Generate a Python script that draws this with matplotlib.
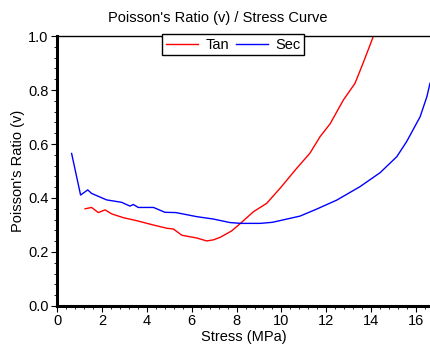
import matplotlib.pyplot as plt
from matplotlib.ticker import MultipleLocator

plt.rcParams['font.family'] = ['Liberation Sans', 'DejaVu Sans']

# Tangent Poisson's ratio
tan_stress = [1.25, 1.54, 1.84, 2.14, 2.44, 2.96, 3.55, 4.29, 4.89, 5.19, 5.56, 6.22,
              6.67, 6.97, 7.26, 7.78, 8.16, 8.75, 9.34, 9.94, 10.68, 11.27, 11.72, 12.17,
              12.76, 13.28, 13.65, 13.95, 14.1]
tan_ratio = [0.360, 0.365, 0.346, 0.356, 0.341, 0.327, 0.316, 0.300, 0.288, 0.285, 0.262, 0.252,
             0.241, 0.245, 0.254, 0.278, 0.305, 0.349, 0.380, 0.436, 0.510, 0.566, 0.627, 0.675,
             0.763, 0.825, 0.902, 0.967, 1.0]

# Secant Poisson's ratio
sec_stress = [0.65, 1.05, 1.37, 1.54, 2.21, 2.88, 3.25, 3.40, 3.62, 4.30, 4.81, 5.30,
              6.22, 6.97, 7.71, 8.2, 9.05, 9.6, 10.83, 11.6, 12.46, 13.5, 14.4, 15.14,
              15.58, 16.18, 16.48, 16.62]
sec_ratio = [0.565, 0.411, 0.430, 0.417, 0.393, 0.384, 0.370, 0.376, 0.365, 0.365, 0.347, 0.346,
             0.331, 0.322, 0.309, 0.306, 0.306, 0.310, 0.333, 0.360, 0.392, 0.442, 0.494, 0.553,
             0.609, 0.701, 0.775, 0.825]

fig = plt.figure(figsize=(4.3, 3.52), dpi=100)
ax = fig.add_axes([0.1326, 0.1307, 0.8674, 0.767])

ax.plot(tan_stress, tan_ratio, color='#ff0000', lw=1.0, label='Tan')
ax.plot(sec_stress, sec_ratio, color='#0000ff', lw=1.0, label='Sec')

ax.set_xlim(0, 16.62)
ax.set_ylim(0, 1.0)
ax.xaxis.set_major_locator(MultipleLocator(2))
ax.xaxis.set_minor_locator(MultipleLocator(0.4))
ax.yaxis.set_major_locator(MultipleLocator(0.2))
ax.yaxis.set_minor_locator(MultipleLocator(0.04))
ax.yaxis.set_major_formatter(plt.FormatStrFormatter('%.1f'))
ax.tick_params(which='major', direction='out', length=4, width=0.8, labelsize=10.5, pad=2)
ax.tick_params(which='minor', direction='out', length=2.5, width=0.6)

ax.spines['left'].set_linewidth(2.2)
ax.spines['bottom'].set_linewidth(2.2)
ax.spines['top'].set_linewidth(1.0)
ax.spines['right'].set_visible(False)

ax.set_xlabel('Stress (MPa)', fontsize=10.5, labelpad=1)
ax.set_ylabel("Poisson's Ratio (v)", fontsize=10.5, labelpad=2)
fig.text(0.507, 0.948, "Poisson's Ratio (v) / Stress Curve", ha='center', va='center', fontsize=10.5)

leg = ax.legend(loc='upper center', bbox_to_anchor=(0.5425, 0.903), bbox_transform=fig.transFigure,
                ncol=2, fontsize=10.5, frameon=True, fancybox=False, framealpha=1,
                edgecolor='black', handlelength=2.2, handletextpad=0.5, columnspacing=0.5,
                borderpad=0.25, borderaxespad=0)
leg.get_frame().set_linewidth(1.0)

fig.savefig('out.png', dpi=100)
